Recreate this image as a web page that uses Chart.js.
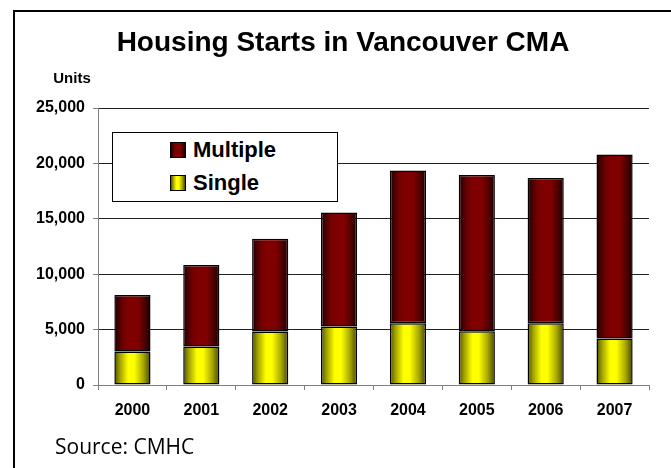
<!DOCTYPE html>
<html>
<head>
<meta charset="utf-8">
<script src="https://cdn.jsdelivr.net/npm/chart.js"></script>
<style>
  html, body { margin: 0; padding: 0; background: #fff; }
  #wrap { position: relative; width: 671px; height: 468px; overflow: hidden; font-family: "Liberation Sans", Arial, sans-serif; }
  #frame { position: absolute; left: 13px; top: 10px; width: 700px; height: 500px; border-left: 2px solid #000; border-top: 2px solid #000; }
  #chartBox { position: absolute; left: 0; top: 0; width: 671px; height: 468px; }
  .txt { position: absolute; white-space: nowrap; line-height: 1; color: #000; }
  #title { left: 343px; top: 28px; transform: translateX(-50%); font-size: 28px; font-weight: bold; }
  #units { left: 72px; top: 70px; transform: translateX(-50%); font-size: 15px; font-weight: bold; }
  #source { left: 55px; top: 436px; font-family: "Open Sans", sans-serif; font-size: 21px; }
  #legend { position: absolute; left: 112px; top: 132px; width: 224px; height: 68px; border: 1px solid #000; background: #fff; }
  .sw { position: absolute; left: 57px; width: 14px; height: 14px; border: 1px solid #000; }
  .lt { position: absolute; left: 80px; font-size: 22px; font-weight: bold; line-height: 1; }
</style>
</head>
<body>
<div id="wrap">
  <div id="frame"></div>
  <div id="chartBox"><canvas id="startsChart" width="671" height="468"></canvas></div>
  <div id="title" class="txt">Housing Starts in Vancouver CMA</div>
  <div id="units" class="txt">Units</div>
  <div id="legend"></div>
  <div id="source" class="txt">Source: CMHC</div>
</div>
<script>
// Data
var years = ['2000', '2001', '2002', '2003', '2004', '2005', '2006', '2007'];
var singleStarts = [3030, 3480, 4830, 5280, 5580, 4860, 5580, 4200];
var multipleStarts = [5090, 7340, 8360, 10280, 13780, 14090, 13100, 16600];
var yTicks = [0, 5000, 10000, 15000, 20000, 25000];

// colour stops across each bar, left to right
var singleStops = [[0, '#4f4f00'], [0.15, '#a0a000'], [0.38, '#ffff00'], [0.55, '#ffff00'], [0.8, '#a8a800'], [1, '#454500']];
var multipleStops = [[0, '#200000'], [0.25, '#700000'], [0.4, '#800000'], [0.65, '#800000'], [0.85, '#4a0000'], [1, '#1a0000']];

var barPct = 0.525;

function barGradient(stops, flat) {
  return function(ctx) {
    var chart = ctx.chart;
    var xs = chart.scales.x;
    if (!chart.chartArea || !xs || ctx.dataIndex === undefined) return flat;
    var cx = xs.getPixelForValue(ctx.dataIndex);
    var w = xs.width / years.length * barPct;
    var g = chart.ctx.createLinearGradient(cx - w / 2, 0, cx + w / 2, 0);
    stops.forEach(function(s) { g.addColorStop(s[0], s[1]); });
    return g;
  };
}

function cssGradient(stops) {
  return 'linear-gradient(to right, ' + stops.map(function(s) { return s[1] + ' ' + (s[0] * 100) + '%'; }).join(', ') + ')';
}

var datasets = [
  {
    label: 'Single',
    data: singleStarts,
    backgroundColor: barGradient(singleStops, '#ffff00'),
    stops: singleStops
  },
  {
    label: 'Multiple',
    data: multipleStarts,
    backgroundColor: barGradient(multipleStops, '#800000'),
    stops: multipleStops
  }
];
datasets.forEach(function(d) {
  d.borderColor = '#000';
  d.borderWidth = 1.5;
  d.borderSkipped = false;
  d.barPercentage = barPct;
  d.categoryPercentage = 1;
});

// legend inside the plot, Multiple listed first
var legend = document.getElementById('legend');
datasets.slice().reverse().forEach(function(d, i) {
  var sw = document.createElement('div');
  sw.className = 'sw';
  sw.style.top = (9 + i * 33) + 'px';
  sw.style.background = cssGradient(d.stops);
  legend.appendChild(sw);
  var t = document.createElement('div');
  t.className = 'lt';
  t.style.top = (6 + i * 33) + 'px';
  t.textContent = d.label;
  legend.appendChild(t);
});

var tickFont = { family: '"Liberation Sans", Arial, sans-serif', size: 16, weight: 'bold' };

new Chart(document.getElementById('startsChart'), {
  type: 'bar',
  data: { labels: years, datasets: datasets },
  options: {
    responsive: false,
    animation: false,
    maintainAspectRatio: false,
    layout: { padding: { left: 0, right: 22, top: 108, bottom: 0 } },
    plugins: {
      legend: { display: false },
      title: { display: false },
      tooltip: { enabled: false }
    },
    scales: {
      x: {
        stacked: true,
        afterFit: function(s) { s.height = 83; },
        grid: {
          offset: true,
          drawOnChartArea: false,
          drawTicks: true,
          tickLength: 5,
          tickColor: '#808080'
        },
        border: { color: '#808080', width: 1 },
        ticks: { color: '#000', font: tickFont, padding: 11, maxRotation: 0, autoSkip: false }
      },
      y: {
        stacked: true,
        min: 0,
        max: 25000,
        afterFit: function(s) { s.width = 98; },
        afterBuildTicks: function(s) { s.ticks = yTicks.map(function(v) { return { value: v }; }); },
        grid: {
          color: '#222',
          lineWidth: 1,
          tickLength: 5,
          tickColor: '#808080'
        },
        border: { color: '#808080', width: 1 },
        ticks: {
          color: '#000',
          font: tickFont,
          padding: 8,
          callback: function(v) { return Number(v).toLocaleString('en-US'); }
        }
      }
    }
  }
});
</script>
</body>
</html>
